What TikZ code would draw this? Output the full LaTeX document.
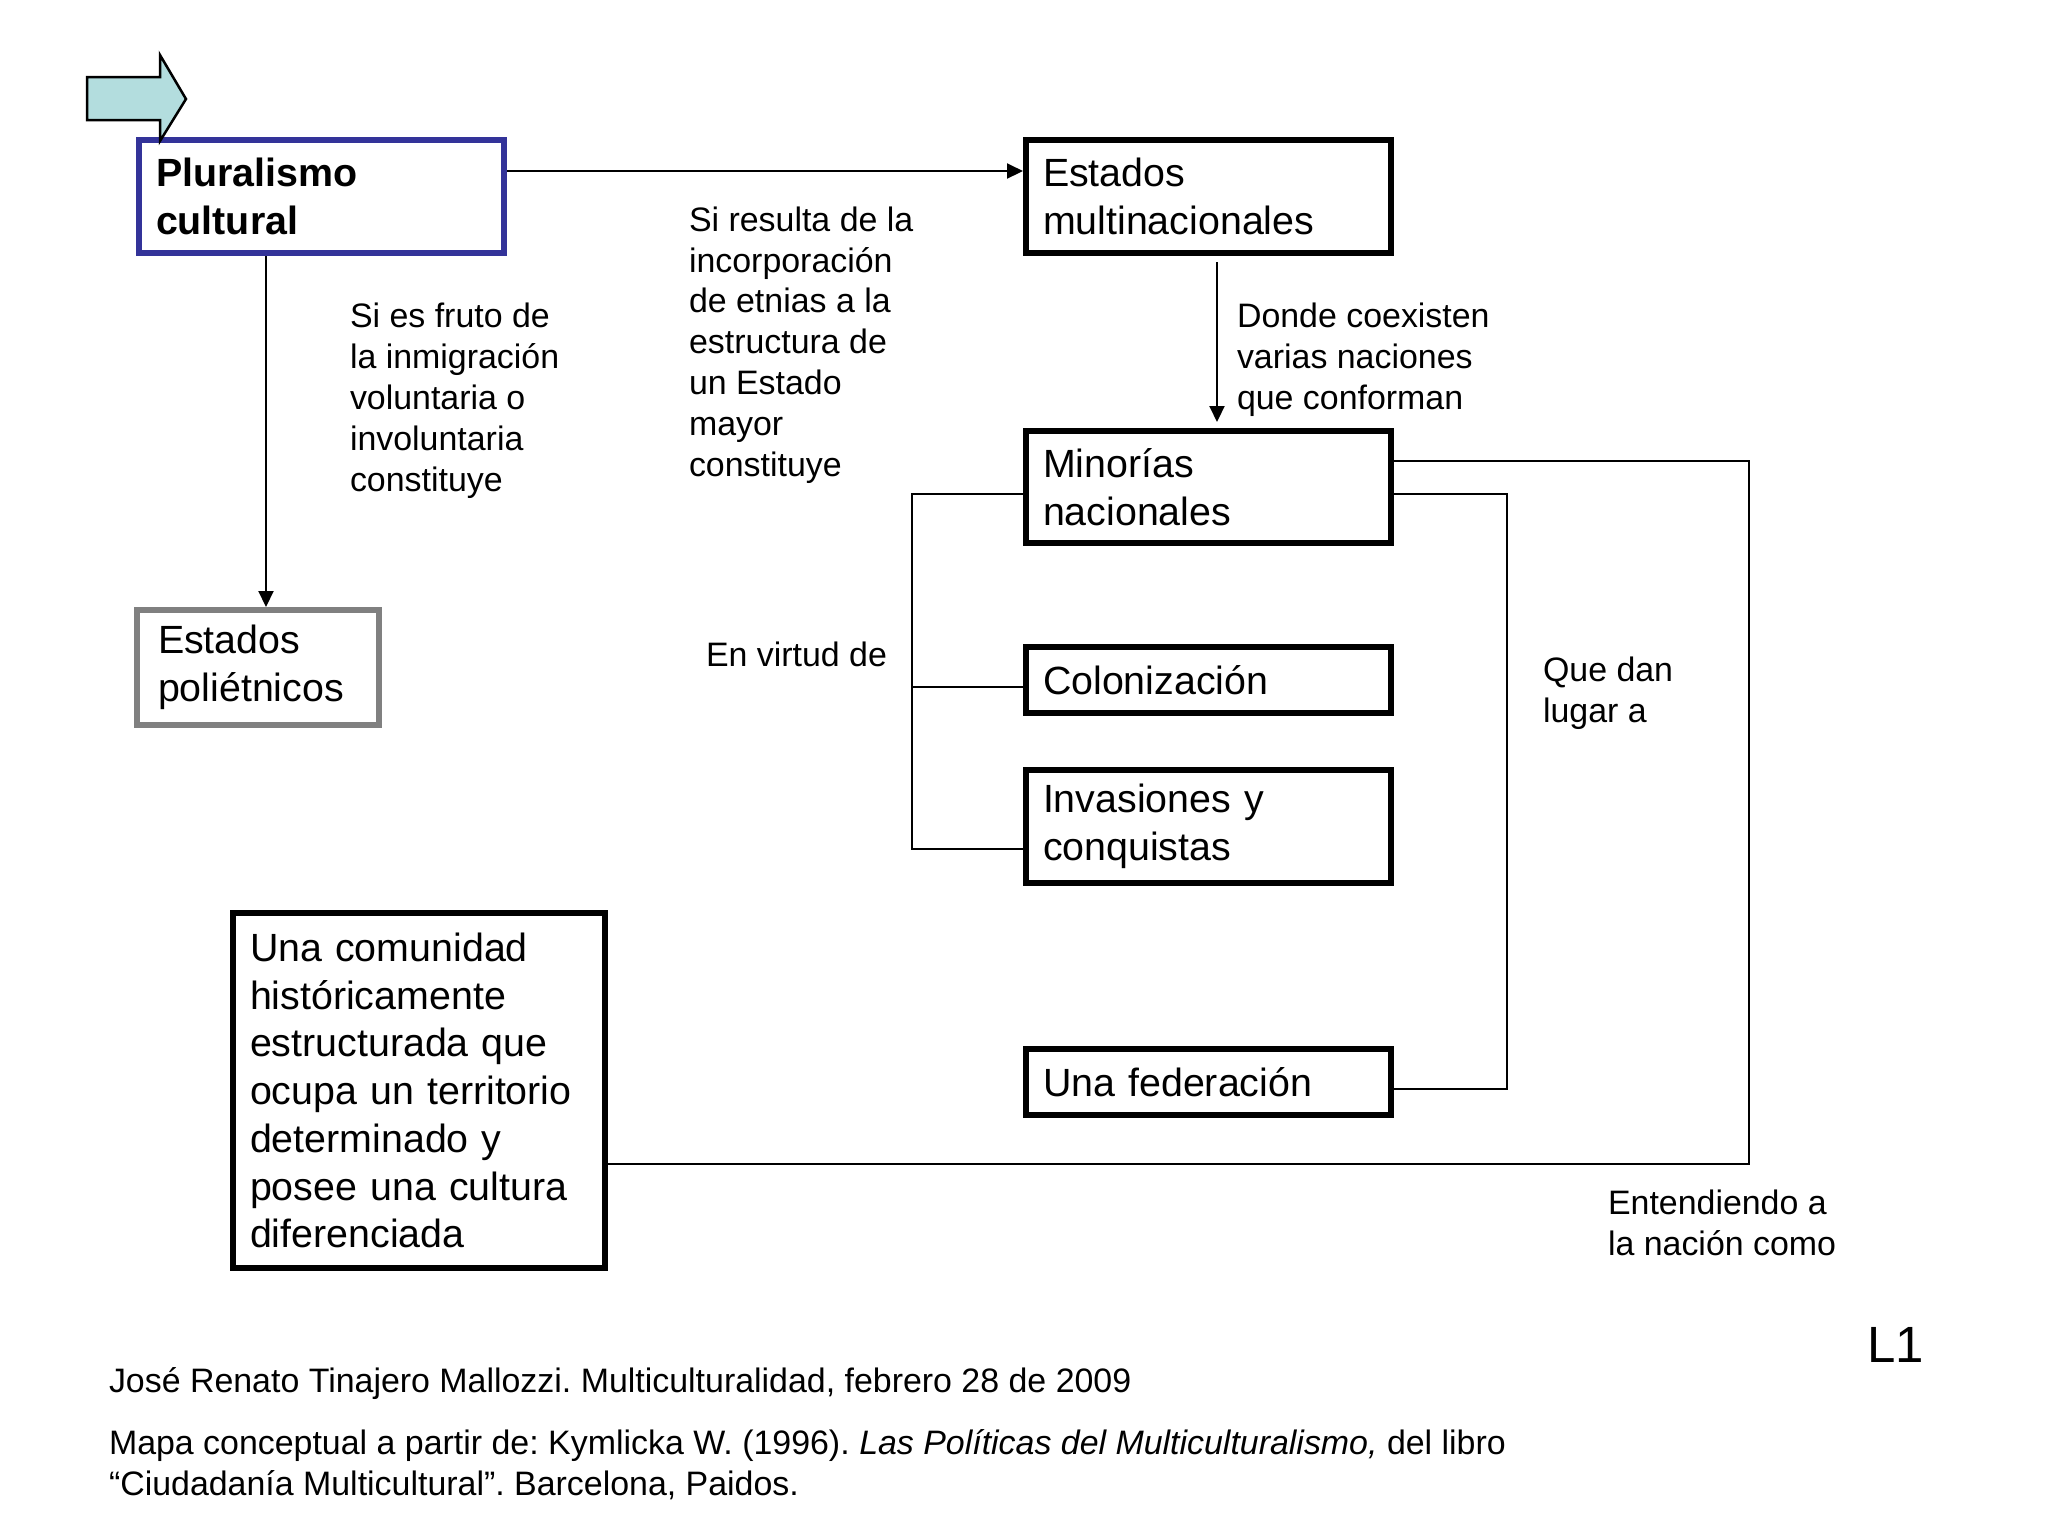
\documentclass[tikz,border=0pt]{standalone}
\usepackage{fontspec}
\setmainfont{Liberation Sans}
\usetikzlibrary{arrows.meta}
\frenchspacing
\definecolor{azulmarco}{RGB}{51,51,153}
\definecolor{grismarco}{RGB}{128,128,128}
\definecolor{flechacian}{RGB}{179,221,222}
\tikzset{
 caja/.style={draw,line width=0.6mm,anchor=north west,inner xsep=1.7mm,inner ysep=0pt,align=left,font=\fontsize{11.2}{13.6}\selectfont},
 etiq/.style={anchor=base west,align=left,inner sep=0pt,font=\fontsize{9.65}{11.6}\selectfont},
 flecha/.style={-{Triangle[width=1.5mm,length=1.6mm]}}
}
\begin{document}
\begin{tikzpicture}[x=0.1mm,y=-0.1mm,line width=0.2mm]
 \useasboundingbox (0,0) rectangle (2048,1536);
 \fill[white] (0,0) rectangle (2048,1536);
 % cajas
 \node[caja,draw=azulmarco,text width=33.1mm,minimum height=11.3mm,font=\fontsize{11.2}{13.6}\selectfont\bfseries] (plural) at (136,137) {Pluralismo\\cultural};
 \node[caja,draw=grismarco,inner xsep=2.1mm,text width=20mm,minimum height=11.5mm] (polie) at (134,607) {Estados\\poliétnicos};
 \foreach \nom/\y/\h/\txt in {multi/137/11.3/{Estados\\multinacionales},minor/428/11.2/{Minorías\\nacionales},colon/644/6.6/{Colonización},invas/767/11.3/{Invasiones y\\conquistas},feder/1046/6.6/{Una federación}}{\node[caja,text width=33.1mm,minimum height=\h mm] (\nom) at (1023,\y) {\txt};}
 \node[caja,text width=33.8mm,minimum height=35.5mm] (comun) at (230,910) {Una comunidad\\históricamente\\estructurada que\\ocupa un territorio\\determinado y\\posee una cultura\\diferenciada};
 \draw[fill=flechacian,line width=0.25mm] (87,77) -- (160,77) -- (160,55) -- (186,99) -- (160,141) -- (160,120) -- (87,120) -- cycle;
 % conectores
 \draw[flecha] ([yshift=-3.4mm]plural.north east) -- ([yshift=-3.4mm]multi.north west);
 \draw[flecha] ([xshift=-5.55mm]plural.south) -- ([xshift=-5.55mm]plural.south |- polie.north);
 \draw[flecha,shorten <=0.6mm,shorten >=0.6mm] ([xshift=0.85mm]multi.south) -- ([xshift=0.85mm]minor.north);
 \draw ([yshift=-0.7mm]minor.west) -- ++(-111,0) coordinate (rama) |- ([yshift=-2.25mm]invas.west);
 \draw ([yshift=-0.7mm]colon.west) -- ++(-111,0);
 \draw ([yshift=2.6mm]minor.east) -- ++(355,0) |- ([yshift=-7.35mm]comun.east);
 \draw ([yshift=-0.7mm]minor.east) -- ++(113,0) |- ([yshift=-0.7mm]feder.east);
 % etiquetas (base = ultima linea)
 \node[etiq] (fruto) at (349,491) {Si es fruto de\\la inmigración\\voluntaria o\\involuntaria\\constituye};
 \node[etiq] (resulta) at (688,476) {Si resulta de la\\incorporación\\de etnias a la\\estructura de\\un Estado\\mayor\\constituye};
 \node[etiq] (donde) at (1236,409) {Donde coexisten\\varias naciones\\que conforman};
 \node[etiq] (virtud) at (705,666) {En virtud de};
 \node[etiq] (dan) at (1542,722) {Que dan\\lugar a};
 \node[etiq] (entiende) at (1607,1255) {Entendiendo a\\la nación como};
 % pie
 \node[etiq] (autor) at (108,1392) {José Renato Tinajero Mallozzi. Multiculturalidad, febrero 28 de 2009};
 \node[etiq] (fuente) at (108,1495) {Mapa conceptual a partir de: Kymlicka W. (1996). \textit{Las Políticas del Multiculturalismo,} del libro\\“Ciudadanía Multicultural”. Barcelona, Paidos.};
 \node[anchor=base west,inner sep=0pt,font=\fontsize{14.5}{17}\selectfont] (hoja) at (1866,1362) {L1};
\end{tikzpicture}
\end{document}
